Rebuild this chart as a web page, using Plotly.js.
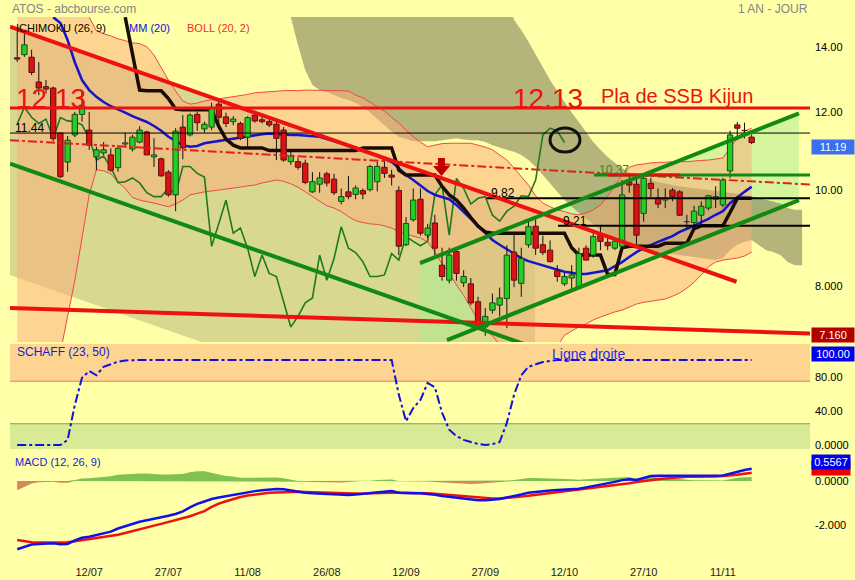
<!DOCTYPE html>
<html><head><meta charset="utf-8">
<script src="https://cdn.plot.ly/plotly-3.0.1.min.js"></script>
<style>html,body{margin:0;padding:0;background:#FFFFA8;}#chart{width:855px;height:580px;}</style>
</head><body><div id="chart"></div>
<script>
// ---------- DATA ----------
const startDate = '2022-06-28';
const tickDates = ['2022-07-12','2022-07-27','2022-08-11','2022-08-26','2022-09-12','2022-09-27','2022-10-12','2022-10-27','2022-11-11'];
const tickText = ['12/07','27/07','11/08','26/08','12/09','27/09','12/10','27/10','11/11'];

const opens = [13.64,13.74,13.66,12.89,12.75,12.71,11.44,10.69,11.39,11.95,
11.52,10.82,10.92,10.87,10.55,11.15,11.02,11.20,11.47,10.82,
10.77,10.44,9.90,11.60,11.39,11.95,11.55,11.60,12.24,11.88,
11.75,11.70,11.33,11.93,11.80,11.75,11.68,11.52,10.70,10.70,
10.66,9.97,10.15,10.40,10.27,9.75,9.97,9.91,10.00,10.02,
10.21,10.56,10.37,10.00,8.81,9.34,9.80,9.01,9.27,8.40,
8.11,8.67,8.06,8.04,7.71,7.27,7.56,7.65,7.77,8.66,
8.05,8.81,9.20,8.81,8.70,8.29,8.04,8.15,7.98,8.74,
8.60,9.05,8.86,8.74,8.78,10.20,10.15,9.48,10.17,9.83,
9.78,10.01,9.97,9.30,9.28,9.44,9.60,9.80,9.67,10.47,
11.66,11.51,11.33];
const highs = [14.50,14.45,13.90,13.50,12.95,12.75,11.44,11.36,12.02,12.60,
12.02,11.08,11.20,11.04,11.12,11.45,11.39,11.62,11.50,11.30,
10.80,10.49,11.57,11.93,11.98,12.02,11.75,12.28,12.30,12.00,
11.90,11.75,11.90,12.05,11.88,11.82,11.80,11.60,10.95,10.80,
10.75,10.44,10.44,10.45,10.40,10.05,10.35,10.12,10.05,10.62,
10.70,10.72,10.50,10.10,9.40,10.05,10.05,9.25,9.45,8.75,
8.75,8.75,8.30,8.15,7.80,7.60,7.86,7.97,8.80,9.05,
8.75,9.30,9.35,9.00,8.90,8.40,8.25,8.40,8.75,8.80,
9.10,9.20,8.95,8.95,10.25,10.37,10.37,10.37,10.30,10.05,
10.05,10.06,10.01,9.45,9.65,9.75,9.90,10.10,10.30,11.50,
11.74,11.72,11.40];
const lows = [13.51,13.67,13.10,12.50,12.55,11.22,10.30,10.45,11.33,11.75,
11.00,10.49,10.87,10.45,10.45,11.10,10.96,11.17,10.87,10.57,
10.33,9.86,9.53,10.76,11.35,11.50,11.45,11.52,11.70,11.60,
11.65,11.25,11.05,11.72,11.70,11.60,10.74,10.70,10.62,10.50,
10.15,9.95,9.95,10.10,9.90,9.68,9.80,9.80,9.80,9.98,
9.98,10.30,10.12,8.60,8.78,9.30,9.00,8.95,8.60,8.10,
8.05,8.10,7.98,7.65,7.22,7.12,7.50,7.45,7.25,7.98,
7.80,8.75,8.60,8.60,8.45,8.08,8.00,7.95,7.95,8.50,
8.55,8.70,8.70,8.70,8.72,9.95,8.80,9.30,9.85,9.60,
9.60,9.75,9.42,9.15,9.20,9.20,9.55,9.60,9.62,10.30,
11.25,11.30,11.15];
const closes = [13.60,14.06,13.18,12.71,12.68,11.29,10.33,11.25,11.95,12.21,
11.12,11.00,11.00,10.49,11.04,11.18,11.33,11.52,10.87,10.87,
10.35,9.90,11.49,11.05,11.93,11.72,11.68,12.15,11.87,11.70,
11.82,11.30,11.86,11.77,11.75,11.66,11.30,10.74,10.84,10.56,
10.19,10.21,10.30,10.18,9.95,9.86,9.86,10.06,9.92,10.58,
10.58,10.41,10.32,8.78,9.26,9.78,9.05,9.16,8.74,8.18,
8.60,8.24,8.18,7.69,7.27,7.45,7.69,7.78,8.60,8.11,
8.53,9.19,8.74,8.65,8.47,8.18,8.18,8.21,8.63,8.50,
8.98,8.88,8.79,8.88,9.90,10.13,9.01,10.29,10.05,9.69,
9.82,9.86,9.44,9.31,9.53,9.64,9.88,9.86,10.25,11.39,
11.57,11.50,11.19];
// null = above the visible price range in the picture
const mm20 = [null,null,null,null,null,15.0,14.8,14.22,13.5,12.95,
12.65,12.45,12.3,12.18,12.1,12.0,11.9,11.82,11.74,11.63,
11.5,11.34,11.23,11.12,11.08,11.1,11.17,11.2,11.22,11.25,
11.28,11.32,11.36,11.39,11.41,11.43,11.41,11.40,11.39,11.39,
11.37,11.36,11.34,11.28,11.23,11.17,11.1,11.02,10.97,10.92,
10.85,10.77,10.69,10.54,10.37,10.25,10.11,9.99,9.9,9.85,
9.8,9.67,9.51,9.36,9.21,9.05,8.91,8.81,8.72,8.62,
8.54,8.48,8.44,8.40,8.36,8.32,8.27,8.25,8.23,8.23,
8.25,8.27,8.30,8.38,8.46,8.56,8.66,8.74,8.81,8.87,
8.93,8.99,9.08,9.14,9.21,9.29,9.36,9.45,9.53,9.71,
9.85,9.97,10.09];
const kijun = [null,null,null,null,null,null,null,null,null,null,
null,null,null,null,null,15.0,13.8,12.65,12.63,12.63,
12.63,12.40,12.10,12.08,12.08,12.08,12.08,12.08,11.62,11.28,
11.12,11.05,11.05,11.05,11.05,10.98,10.98,10.98,10.98,10.98,
10.98,10.98,10.98,10.98,10.98,10.98,10.98,10.98,11.05,11.05,
11.05,11.05,11.05,10.49,10.37,10.37,10.37,10.37,10.37,10.10,
9.90,9.78,9.60,9.39,9.20,9.08,9.05,9.05,9.05,9.05,
9.05,9.05,9.05,9.05,9.05,9.05,9.05,8.75,8.60,8.60,
8.60,8.60,8.22,8.22,8.75,8.78,8.78,8.78,8.78,8.78,
8.84,8.84,8.84,8.84,9.15,9.21,9.21,9.21,9.21,9.50,
9.82,9.82,9.82];
const bollUp = [16.9,16.8,16.7,16.6,16.5,16.4,16.2,15.9,15.6,15.3,15.0,
14.53,14.43,14.36,14.26,14.2,14.13,14.1,14.0,13.73,13.32,
12.95,12.62,12.33,12.24,12.27,12.33,12.36,12.39,12.42,12.45,
12.48,12.52,12.57,12.59,12.6,12.62,12.63,12.64,12.63,12.65,
12.65,12.65,12.65,12.65,12.63,12.62,12.5,12.42,12.3,12.18,
12.04,11.87,11.71,11.52,11.34,11.2,11.08,11.12,11.16,11.17,
11.17,11.17,11.17,11.12,11.07,11.0,10.87,10.74,10.54,10.32,
10.13,9.88,9.71,9.63,9.56,9.52,9.47,9.45,9.49,9.56,
9.67,9.87,10.13,10.37,10.56,10.62,10.64,10.67,10.68,10.69,
10.69,10.70,10.70,10.72,10.73,10.74,10.77,10.79,11.05,11.30,
11.49,11.57];
const bollLow = [6.0,6.1,6.2,6.3,6.5,6.7,6.85,7.45,8.1,8.95,9.9,
10.5,10.47,10.4,10.2,10.05,9.84,9.78,9.75,9.71,9.67,
9.63,9.69,9.78,9.9,9.94,9.97,9.99,10.01,10.04,10.06,
10.08,10.11,10.13,10.18,10.22,10.25,10.22,10.16,10.08,9.97,
9.85,9.74,9.65,9.6,9.52,9.41,9.32,9.28,9.25,9.24,
9.21,9.16,9.08,9.03,8.99,8.95,8.87,8.66,8.42,8.25,
8.02,7.83,7.6,7.39,7.22,7.12,6.97,6.85,6.75,6.7,
6.68,6.68,6.72,6.8,6.95,7.13,7.2,7.27,7.32,7.39,
7.44,7.49,7.53,7.56,7.61,7.67,7.7,7.72,7.74,7.76,
7.81,7.87,7.96,8.07,8.21,8.37,8.46,8.5,8.52,8.54,
8.58,8.66];
// Ichimoku cloud (projected), positions 36..109
const cloudStart = 36;
const cloudTop = [16,16,16,16,16,16,16,16,16,16,16,16,16,16,16,16,16,16,16,16,16,16,16,16,16,16,16,16,16,16,16,16,16,
14.9,14.56,14.16,13.73,13.32,12.95,12.62,12.3,12.0,11.74,11.46,11.2,11.0,10.82,10.67,10.54,10.44,10.37,10.3,10.25,
10.2,10.16,10.13,10.1,10.08,10.05,10.03,10.01,9.99,9.97,9.95,9.92,9.9,9.86,9.82,9.78,9.74,9.7,9.6,9.56,9.56];
const cloudBottom = [15.6,15.3,15.0,14.05,13.26,12.8,12.65,12.59,12.5,12.42,12.36,12.27,12.15,12.0,11.82,11.64,11.48,11.34,
11.27,11.22,11.22,11.22,11.22,11.25,11.27,11.3,11.27,11.25,11.25,11.2,11.12,11.05,11.0,10.95,10.87,10.74,10.57,10.37,
10.18,9.97,9.78,9.63,9.49,9.36,9.23,9.12,9.0,8.91,8.83,8.77,8.72,8.70,8.68,8.66,8.64,8.62,8.60,8.58,8.56,8.54,8.52,
8.50,8.54,8.70,8.81,8.87,8.91,8.81,8.70,8.66,8.60,8.46,8.40,8.40];
const schaff = [0,0,0,0,0,0,0,6,47,79,
87,82,92,95,98,99.4,100,100,100,100,
100,100,100,100,100,100,100,100,100,100,100,100,100,100,100,100,100,100,100,100,100,100,100,100,100,100,100,100,100,100,100,100,100,
59,28,43.5,53,73,68,38,18,10.6,6,
3.5,1.2,0,1,3.5,26,59,82,92,95,
97.6,98.8,
100,100,100,100,100,100,100,100,100,100,100,100,100,100,100,100,100,100,100,100,100,100,100,100,100,100,100,100];
const macd = [-3.10,-2.99,-2.89,-2.86,-2.84,-2.83,-2.88,-2.86,-2.70,-2.58,
-2.53,-2.45,-2.37,-2.30,-2.16,-2.05,-1.93,-1.85,-1.78,-1.72,
-1.66,-1.58,-1.50,-1.38,-1.20,-1.04,-0.93,-0.82,-0.75,-0.69,
-0.62,-0.58,-0.51,-0.46,-0.42,-0.39,-0.36,-0.38,-0.44,-0.50,
-0.53,-0.56,-0.58,-0.60,-0.62,-0.64,-0.64,-0.61,-0.58,-0.55,
-0.50,-0.46,-0.46,-0.53,-0.56,-0.56,-0.56,-0.58,-0.63,-0.68,
-0.72,-0.77,-0.82,-0.86,-0.87,-0.87,-0.86,-0.82,-0.75,-0.69,
-0.61,-0.53,-0.49,-0.46,-0.43,-0.41,-0.39,-0.37,-0.35,-0.29,
-0.23,-0.18,-0.11,-0.04,0.04,0.08,0.05,0.14,0.23,0.24,
0.24,0.24,0.24,0.23,0.23,0.23,0.23,0.23,0.25,0.33,
0.43,0.50,0.5567];
const signal = [-2.68,-2.74,-2.78,-2.80,-2.80,-2.80,-2.80,-2.78,-2.74,-2.69,
-2.65,-2.60,-2.55,-2.52,-2.44,-2.36,-2.27,-2.19,-2.12,-2.03,
-1.95,-1.87,-1.79,-1.70,-1.60,-1.48,-1.37,-1.18,-1.03,-0.92,
-0.82,-0.73,-0.66,-0.61,-0.56,-0.53,-0.52,-0.50,-0.49,-0.49,
-0.50,-0.51,-0.52,-0.53,-0.55,-0.57,-0.59,-0.60,-0.58,-0.56,
-0.54,-0.53,-0.53,-0.53,-0.53,-0.53,-0.54,-0.56,-0.58,-0.61,
-0.64,-0.67,-0.70,-0.72,-0.75,-0.78,-0.79,-0.79,-0.77,-0.74,
-0.71,-0.67,-0.63,-0.58,-0.55,-0.51,-0.48,-0.45,-0.41,-0.37,
-0.33,-0.29,-0.24,-0.19,-0.14,-0.10,-0.05,0.00,0.04,0.08,
0.11,0.14,0.17,0.19,0.195,0.195,0.20,0.21,0.23,0.25,
0.28,0.33,0.38];
// drawn lines (position index, price)
const redTrendX = [-1.0, 99.9], redTrendY = [14.67, 8.08];
const redBottomX = [-1.0, 110.1], redBottomY = [7.60, 7.16];
const greenDownX = [-1.0, 71.2], greenDownY = [10.65, 6.95];
const greenUpTopX = [55.93, 108.57], greenUpTopY = [8.44, 11.98];
const greenUpLowX = [59.68, 108.57], greenUpLowY = [7.05, 9.78];
const dashRedX = [-1.0, 110.1], dashRedY = [11.25, 10.14];
const oliveX = [-1.0, 71.9, 71.9, -1.0], oliveY = [14.67, 9.54, 5.34, 8.21];
const chanX = [55.93, 108.57, 108.57, 55.93], chanY = [8.44, 11.98, 9.78, 6.88];
const levels = {ssb: 12.13, l1144: 11.44, l1037: 10.37, l982: 9.82, l921: 9.21, last: 11.19, support: 7.16};
const lvlStart = {l1037: 80.1, l982: 65.2, l921: 75.1};
const redSegX = [82.0, 92.0];

// ---------- BUILD ----------
function tradingDays(start, n){
  const out=[]; const d=new Date(start+'T12:00:00Z');
  while(out.length<n){const w=d.getUTCDay(); if(w!==0&&w!==6) out.push(d.toISOString().slice(0,10)); d.setUTCDate(d.getUTCDate()+1);}
  return out;
}
const dates = tradingDays(startDate, closes.length);
const idx = dates.map((d,i)=>i);
const tickVals = tickDates.map(d=>dates.indexOf(d));
const XMIN=-1.0, XMAX=110.1;
const cloudX = cloudTop.map((v,i)=>cloudStart+i);
const chikX = closes.slice(26).map((c,i)=>i);
const chikY = closes.slice(26);
const hist = macd.map((m,i)=>m-signal[i]);
const histPos = hist.map(h=>Math.max(h,0));
const histNeg = hist.map(h=>Math.min(h,0));
const L = Math.log10;
const HW = 0.37;
const upX=[],upY=[],dnX=[],dnY=[],wickX=[],wickY=[];
idx.forEach(i=>{
  const o=opens[i], c=closes[i];
  wickX.push(i,i,null); wickY.push(lows[i],highs[i],null);
  const tx=[i-HW,i+HW,i+HW,i-HW,i-HW,null], ty=[o,o,c,c,o,null];
  if(c>=o){upX.push(...tx);upY.push(...ty);} else {dnX.push(...tx);dnY.push(...ty);}
});

const FONT = 'Liberation Sans, Arial, sans-serif';
const traces = [];
function line(x,y,color,width,dash,ax){traces.push({type:'scatter',mode:'lines',x:x,y:y,yaxis:ax||'y',line:{color:color,width:width,dash:dash||'solid'},hoverinfo:'skip',showlegend:false});}
function poly(x,y,fill,ax,lc,lw){traces.push({type:'scatter',mode:'lines',x:x,y:y,yaxis:ax||'y',fill:'toself',fillcolor:fill,line:{width:lw||0,color:lc||fill},hoverinfo:'skip',showlegend:false});}

poly(oliveX, oliveY, 'rgba(144,144,99,0.35)');
poly(chanX, chanY, 'rgba(169,235,144,0.5)');
traces.push({type:'scatter',mode:'lines',x:cloudX,y:cloudTop,line:{width:0},hoverinfo:'skip',showlegend:false});
traces.push({type:'scatter',mode:'lines',x:cloudX,y:cloudBottom,fill:'tonexty',fillcolor:'rgba(120,118,85,0.55)',line:{width:0},hoverinfo:'skip',showlegend:false});
traces.push({type:'scatter',mode:'lines',x:idx,y:bollUp,line:{color:'#F04848',width:1},hoverinfo:'skip',showlegend:false});
traces.push({type:'scatter',mode:'lines',x:idx,y:bollLow,fill:'tonexty',fillcolor:'rgba(251,171,120,0.5)',line:{color:'#F04848',width:1},hoverinfo:'skip',showlegend:false});
line(chikX, chikY, '#1E7A1E', 1.6);
line(idx, mm20, '#1414C8', 2.5);
line(idx, kijun, '#1A0C04', 3.5);
line(wickX, wickY, '#111111', 1);
poly(upX, upY, '#22D022', 'y', '#1A4A1A', 1);
poly(dnX, dnY, '#DD1111', 'y', '#5A1010', 1);
line([XMIN,XMAX],[levels.l1144,levels.l1144],'#000000',1);
line(dashRedX, dashRedY, '#E02020', 2, 'dashdot');
line([lvlStart.l982,XMAX],[levels.l982,levels.l982],'#000000',2);
line([lvlStart.l921,XMAX],[levels.l921,levels.l921],'#000000',2);
line([lvlStart.l1037,XMAX],[levels.l1037,levels.l1037],'#138A13',3);
line(redSegX,[levels.l1037,levels.l1037],'#E01010',3);
line([XMIN,XMAX],[levels.ssb,levels.ssb],'#EE1111',3);
line(redTrendX, redTrendY, '#EE1111', 4);
line(redBottomX, redBottomY, '#EE1111', 4);
line(greenDownX, greenDownY, '#118A11', 4);
line(greenUpTopX, greenUpTopY, '#118A11', 4);
line(greenUpLowX, greenUpLowY, '#118A11', 4);
line(idx, schaff, '#1010E0', 2, 'dashdot', 'y2');
traces.push({type:'scatter',mode:'lines',x:idx,y:histPos,yaxis:'y3',fill:'tozeroy',fillcolor:'#7FC152',line:{width:0},hoverinfo:'skip',showlegend:false});
traces.push({type:'scatter',mode:'lines',x:idx,y:histNeg,yaxis:'y3',fill:'tozeroy',fillcolor:'#D8875C',line:{width:0},hoverinfo:'skip',showlegend:false});
line(idx, signal, '#EE1111', 2.5, 'solid', 'y3');
line(idx, macd, '#1010EE', 2.5, 'solid', 'y3');

const W=855,H=580;
const px = v=>v/W, py = v=>1-v/H;
function ann(text,x,y,opt){return Object.assign({text:text,x:x,y:y,showarrow:false,yanchor:'middle',xanchor:'center',font:{family:FONT,size:12,color:'#000'}},opt||{});}
const annotations = [
  ann('ATOS - abcbourse.com',px(10),py(9),{xref:'paper',yref:'paper',xanchor:'left',font:{family:FONT,size:12,color:'#858585'}}),
  ann('1 AN - JOUR',px(810),py(9),{xref:'paper',yref:'paper',xanchor:'right',font:{family:FONT,size:12,color:'#858585'}}),
  ann('ICHIMOKU (26, 9)',px(14),py(28),{xref:'paper',yref:'paper',xanchor:'left',font:{family:FONT,size:11,color:'#000'}}),
  ann('MM (20)',px(127),py(28),{xref:'paper',yref:'paper',xanchor:'left',font:{family:FONT,size:11,color:'#1010E0'}}),
  ann('BOLL (20, 2)',px(185),py(28),{xref:'paper',yref:'paper',xanchor:'left',font:{family:FONT,size:11,color:'#EE3030'}}),
  ann('SCHAFF (23, 50)',px(15),py(352),{xref:'paper',yref:'paper',xanchor:'left',font:{family:FONT,size:12,color:'#1A1AD0'}}),
  ann('MACD (12, 26, 9)',px(13),py(462),{xref:'paper',yref:'paper',xanchor:'left',font:{family:FONT,size:11,color:'#1A1AD0'}}),
  ann('Ligne droite',79.3,100,{xref:'x',yref:'y2',yshift:6,font:{family:FONT,size:14,color:'#2A2ADF'}}),
  ann('11.44',1.76,L(levels.l1144),{xref:'x',yref:'y',yshift:5}),
  ann('9.82',67.45,L(levels.l982),{xref:'x',yref:'y',yshift:5.5}),
  ann('9.21',77.46,L(levels.l921),{xref:'x',yref:'y',yshift:5}),
  ann('10.37',82.9,L(levels.l1037),{xref:'x',yref:'y',yshift:5,font:{family:FONT,size:12,color:'#2A8A2A'}}),
  ann('12.13',4.68,L(levels.ssb),{xref:'x',yref:'y',yshift:10,font:{family:FONT,size:28,color:'#EE1111'}}),
  ann('12.13',73.7,L(levels.ssb),{xref:'x',yref:'y',yshift:10,font:{family:FONT,size:28,color:'#EE1111'}}),
  ann('Pla de SSB Kijun',91.6,L(levels.ssb),{xref:'x',yref:'y',yshift:12,font:{family:FONT,size:20,color:'#EE1111'}}),
  ann('11.19',px(811),L(levels.last),{xref:'paper',yref:'y',xanchor:'left',yshift:-4,bgcolor:'#3C6EF0',width:40,height:12,borderpad:1,font:{family:FONT,size:11,color:'#fff'}}),
  ann('7.160',px(811),L(levels.support),{xref:'paper',yref:'y',xanchor:'left',yshift:-1.5,bgcolor:'#B00000',width:40,height:12,borderpad:1,font:{family:FONT,size:11,color:'#fff'}}),
  ann('100.00',px(811),100,{xref:'paper',yref:'y2',xanchor:'left',yshift:6,bgcolor:'#0000EE',width:40,height:12,borderpad:1,font:{family:FONT,size:11,color:'#fff'}}),
  ann('',px(811),signal[signal.length-1],{xref:'paper',yref:'y3',xanchor:'left',yshift:5,bgcolor:'#EE0000',width:36,height:12,borderpad:1}),
  ann('0.5567',px(811),macd[macd.length-1],{xref:'paper',yref:'y3',xanchor:'left',yshift:7,bgcolor:'#0000EE',width:36,height:12,borderpad:1,font:{family:FONT,size:11,color:'#fff'}})
];
const shapes = [
  {type:'rect',xref:'paper',yref:'y2',x0:px(10),x1:px(810),y0:75,y1:118.8,fillcolor:'#FDD591',line:{width:0},layer:'below'},
  {type:'rect',xref:'paper',yref:'y2',x0:px(10),x1:px(810),y0:-4.7,y1:25,fillcolor:'#D8EA96',line:{width:0},layer:'below'},
  {type:'line',xref:'paper',yref:'y2',x0:px(10),x1:px(810),y0:75,y1:75,line:{color:'#F07850',width:1},layer:'below'},
  {type:'line',xref:'paper',yref:'y2',x0:px(10),x1:px(810),y0:25,y1:25,line:{color:'#60B040',width:1},layer:'below'},
  {type:'circle',xref:'x',yref:'paper',x0:74.0,x1:78.15,y0:py(152),y1:py(128),line:{color:'#111',width:3}},
  {type:'path',xref:'x',yref:'paper',path:`M58.43,${py(158)} L59.40,${py(158)} L59.40,${py(166)} L60.10,${py(166)} L58.92,${py(176)} L57.74,${py(166)} L58.43,${py(166)} Z`,fillcolor:'#C00000',line:{width:0}},
  // header strip above the price panel
  {type:'rect',xref:'paper',yref:'paper',x0:0,x1:1,y0:py(17),y1:1,fillcolor:'#FFFFA8',line:{width:0},layer:'above'}
];
const axBase = {showgrid:false,zeroline:false,showline:false,ticks:'',fixedrange:true};
const tf = {family:FONT,size:11,color:'#000'};
const layout = {
  width:W,height:H,margin:{l:0,r:0,t:0,b:0},paper_bgcolor:'#FFFFA8',plot_bgcolor:'rgba(0,0,0,0)',showlegend:false,
  xaxis:Object.assign({},axBase,{domain:[px(10),px(810)],range:[XMIN,XMAX],anchor:'y3',tickvals:tickVals,ticktext:tickText,tickfont:{family:FONT,size:11,color:'#222'},ticklabelstandoff:8}),
  yaxis:Object.assign({},axBase,{type:'log',domain:[py(342),py(17)],range:[0.84621,1.17629],side:'right',anchor:'x',tickvals:[8,10,12,14],ticktext:['8.000','10.00','12.00','14.00'],tickfont:tf,ticklabelstandoff:4}),
  yaxis2:Object.assign({},axBase,{domain:[py(449),py(344)],range:[-4.7,118.8],side:'right',anchor:'x',tickvals:[0,40,80],ticktext:['0.0000','40.00','80.00'],tickfont:tf,ticklabelstandoff:4}),
  yaxis3:Object.assign({},axBase,{domain:[py(556),py(452)],range:[-3.409,1.318],side:'right',anchor:'x',tickvals:[0,-2],ticktext:['0.0000','-2.000'],tickfont:tf,ticklabelstandoff:4}),
  annotations:annotations,shapes:shapes
};
Plotly.newPlot('chart',traces,layout,{staticPlot:true,displayModeBar:false});
</script></body></html>
